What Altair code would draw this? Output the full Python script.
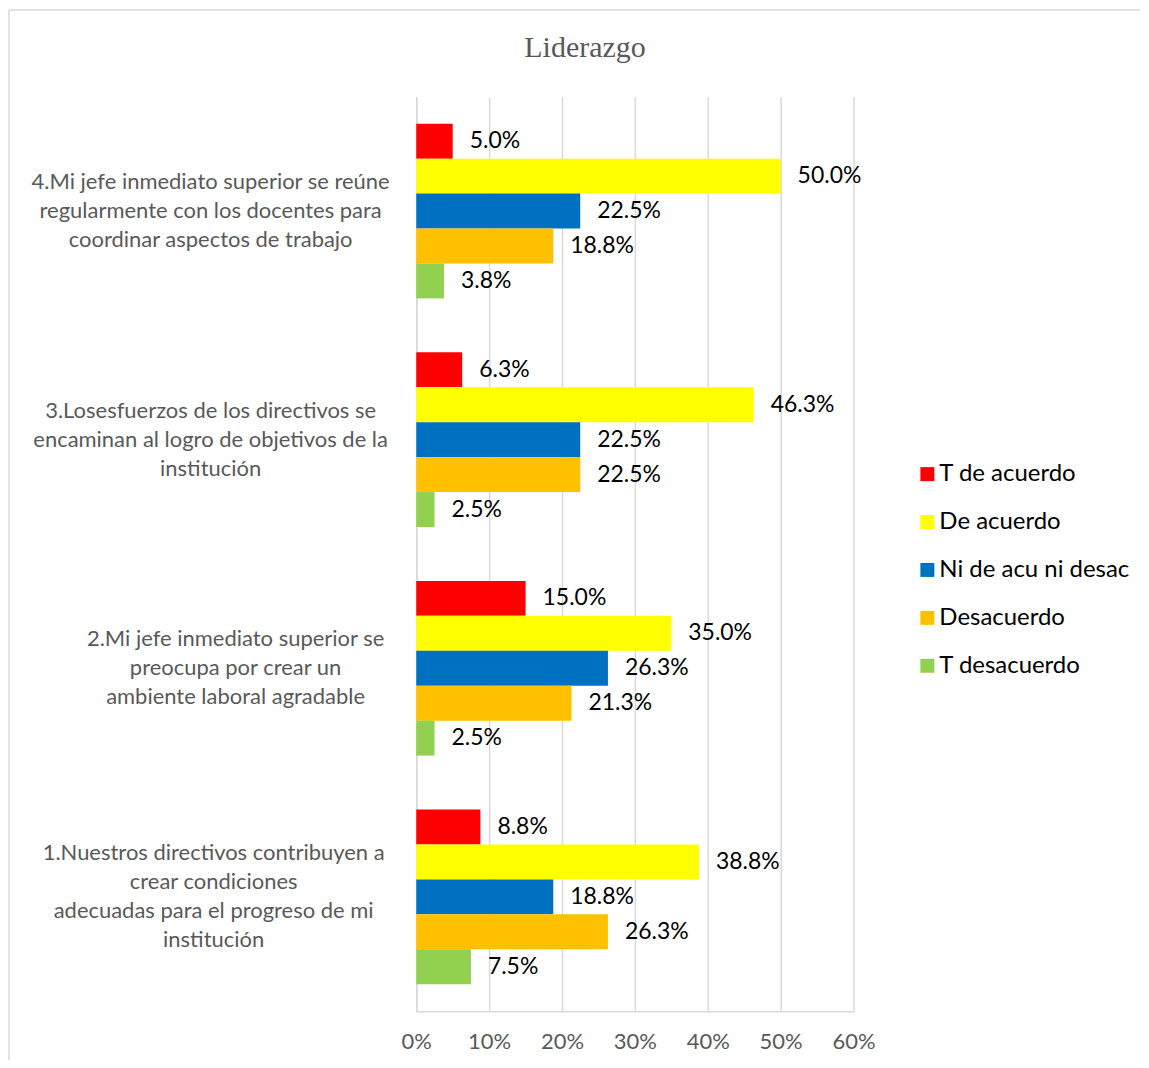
import altair as alt
import pandas as pd

categories = [
    "4.Mi jefe inmediato superior se reúne|regularmente con los docentes para|coordinar aspectos de trabajo",
    "3.Losesfuerzos de los directivos se|encaminan al logro de objetivos de la|institución",
    "2.Mi jefe inmediato superior se|preocupa por crear un|ambiente laboral agradable",
    "1.Nuestros directivos contribuyen a|crear condiciones|adecuadas para el progreso de mi|institución",
]
series = ["T de acuerdo", "De acuerdo", "Ni de acu ni desac", "Desacuerdo", "T desacuerdo"]
colors = ["#FF0000", "#FFFF00", "#0070C0", "#FFC000", "#92D050"]

t_de_acuerdo = [0.050, 0.063, 0.150, 0.088]
de_acuerdo = [0.500, 0.463, 0.350, 0.388]
ni_de_acu = [0.225, 0.225, 0.263, 0.188]
desacuerdo = [0.188, 0.225, 0.213, 0.263]
t_desacuerdo = [0.038, 0.025, 0.025, 0.075]

x_ticks = [0, 0.1, 0.2, 0.3, 0.4, 0.5, 0.6]

rows = []
for s, vals in zip(series, [t_de_acuerdo, de_acuerdo, ni_de_acu, desacuerdo, t_desacuerdo]):
    for c, v in zip(categories, vals):
        rows.append({"categoria": c, "serie": s, "valor": v})
df = pd.DataFrame(rows)
cat_df = pd.DataFrame({"categoria": categories})

W, H = 438, 916
LEFT, TOP = 408, 87
LH = 29

y_scale = alt.Scale(paddingInner=0.236, paddingOuter=0.118)
y_enc = alt.Y(
    "categoria:N",
    sort=categories,
    scale=y_scale,
    axis=alt.Axis(
        title=None,
        labels=False,
        ticks=False,
        domain=True,
        domainColor="#d9d9d9",
        domainWidth=1.5,
        grid=False,
    ),
)
x_enc = alt.X(
    "valor:Q",
    scale=alt.Scale(domain=[0, 0.6], nice=False),
    axis=alt.Axis(
        title=None,
        values=x_ticks,
        format=".0%",
        labelFont="Lato",
        labelFontSize=22,
        labelColor="#595959",
        labelPadding=20,
        labelFlush=False,
        ticks=False,
        domainColor="#d9d9d9",
        domainWidth=1.5,
        gridColor="#d9d9d9",
        gridWidth=1.5,
    ),
)
yoff = alt.YOffset("serie:N", sort=series)

bars = alt.Chart(df).mark_bar().encode(
    x=x_enc,
    y=y_enc,
    yOffset=yoff,
    color=alt.Color(
        "serie:N",
        sort=series,
        scale=alt.Scale(domain=series, range=colors),
        legend=alt.Legend(
            title=None,
            orient="none",
            legendX=500,
            legendY=366,
            symbolType="square",
            symbolSize=196,
            symbolStrokeWidth=0,
            labelFont="Lato",
            labelFontSize=24,
            labelColor="#000000",
            labelOffset=0,
            labelLimit=400,
            rowPadding=24,
        ),
    ),
)

labels = alt.Chart(df).mark_text(
    align="left", baseline="middle", dx=17, font="Lato", fontSize=23, color="#000000"
).encode(
    x="valor:Q",
    y=alt.Y("categoria:N", sort=categories),
    yOffset=yoff,
    text=alt.Text("valor:Q", format=".1%"),
)


def cat_layer(cats, xpos, n_lines):
    return alt.Chart(cat_df).mark_text(
        lineBreak="|", align="center", baseline="middle", lineHeight=LH,
        font="Lato", fontSize=22, color="#595959", dy=-(n_lines - 1) * LH / 2,
    ).encode(
        y=alt.Y("categoria:N", sort=categories),
        x=alt.value(xpos),
        text="categoria:N",
    ).transform_filter(alt.FieldOneOfPredicate(field="categoria", oneOf=cats))


cat_a = cat_layer(categories[0:2], -206, 3)
cat_b = cat_layer([categories[2]], -181, 3)
cat_c = cat_layer([categories[3]], -203, 4)

border_df = pd.DataFrame({"k": [0]})
left_border = alt.Chart(border_df).mark_rule(color="#d9d9d9", strokeWidth=1.5).encode(
    x=alt.value(-LEFT), y=alt.value(-TOP), y2=alt.value(1060 - 8 - TOP)
)
top_border = alt.Chart(border_df).mark_rule(color="#d9d9d9", strokeWidth=1.5).encode(
    x=alt.value(-LEFT), x2=alt.value(1141 - 8 - LEFT), y=alt.value(-TOP)
)

chart = alt.layer(left_border, top_border, bars, labels, cat_a, cat_b, cat_c).properties(
    width=W,
    height=H,
    padding=0,
    title=alt.TitleParams(
        "Liderazgo",
        font="Liberation Serif",
        fontSize=30,
        fontWeight="normal",
        color="#595959",
        anchor="middle",
        offset=-54,
        dx=-50,
    ),
).configure_view(stroke=None)

chart.save("out.html", embed_options={"renderer": "svg", "actions": False})
